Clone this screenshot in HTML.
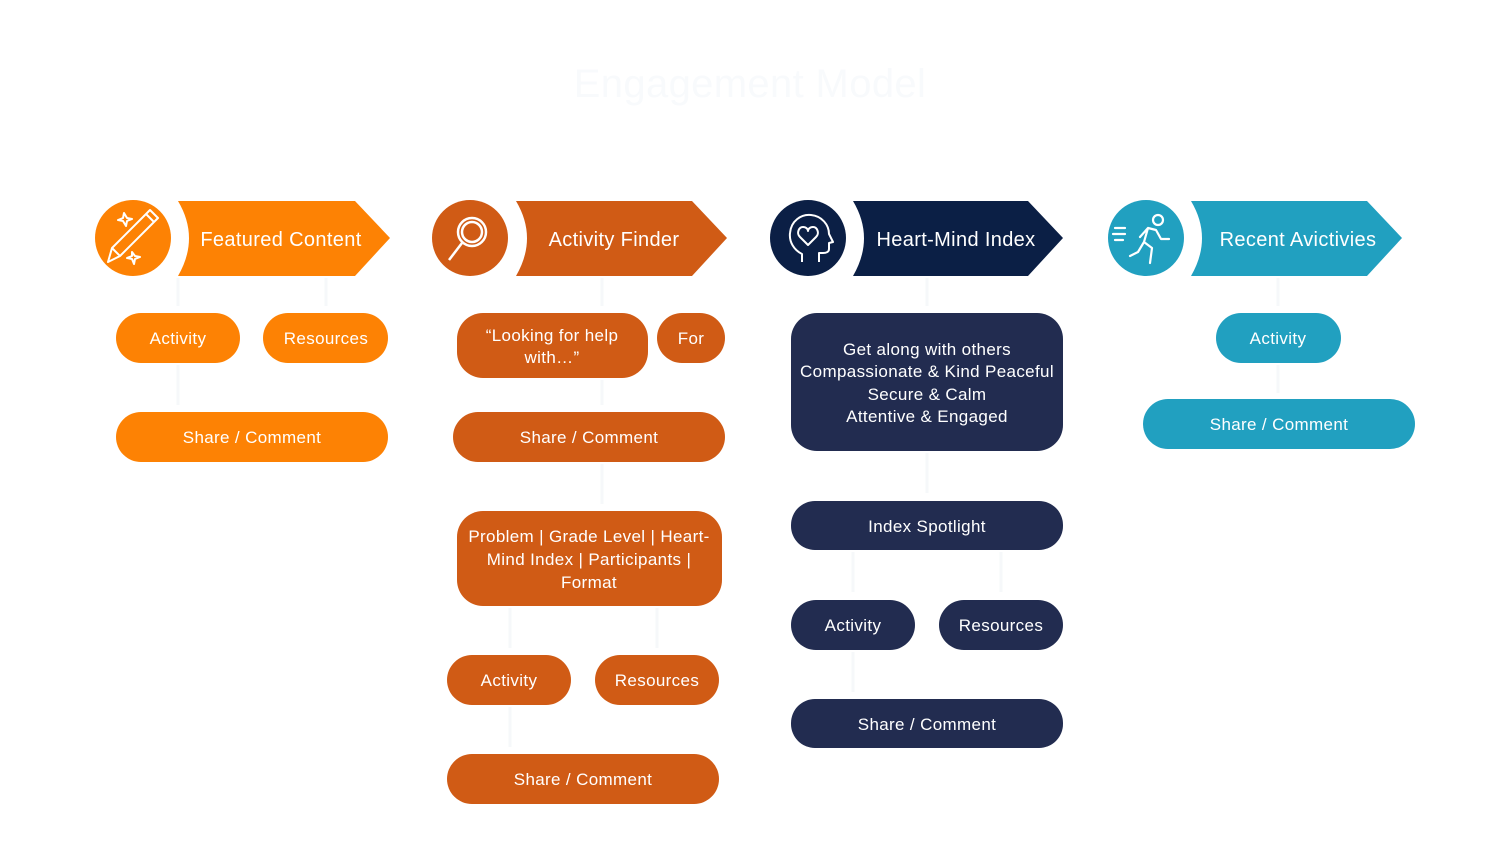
<!DOCTYPE html>
<html><head><meta charset="utf-8"><style>
html,body{margin:0;padding:0;background:#fff;}
svg{display:block;}
text{font-family:"Liberation Sans",sans-serif;fill:#fff;letter-spacing:0.35px;}
</style></head><body>
<svg width="1500" height="844" viewBox="0 0 1500 844" xmlns="http://www.w3.org/2000/svg">
<text x="750" y="97" text-anchor="middle" font-size="40" style="fill:#f8fafc">Engagement Model</text>

<!-- faint connectors -->
<g stroke="#f6f8fa" stroke-width="3" fill="none">
<path d="M178 278v28M326 278v28M178 365v40M602 278v28M602 380v25M602 464v40M510 608v40M657 608v40M510 707v40M927 278v28M927 453v40M853 552v40M1001 552v40M853 652v40M1278 278v28M1278 365v28"/>
</g>

<!-- Column 1 -->
<circle cx="133" cy="238" r="38" fill="#fd8204"/>
<g stroke="#fff" stroke-width="2" fill="none" stroke-linejoin="round">
<path d="M108 262l4-14 38-38 8 8-38 38z M112 248l8 8 M146 214l8 8"/>
<path d="M124 213l3 5 5 1-5 2-1 5-3-5-5-1 5-2z M132 252l3 4 5 1-5 2-1 5-2-5-5-1 5-2z"/>
</g>
<path d="M178 201 Q200 238 178 276 L355 276 L390 238 L355 201 Z" fill="#fd8204"/>
<text x="281" y="246" text-anchor="middle" font-size="20">Featured Content</text>
<rect x="116" y="313" width="124" height="50" rx="25" fill="#fd8204"/>
<text x="178" y="344" text-anchor="middle" font-size="17">Activity</text>
<rect x="263" y="313" width="125" height="50" rx="25" fill="#fd8204"/>
<text x="326" y="344" text-anchor="middle" font-size="17">Resources</text>
<rect x="116" y="412" width="272" height="50" rx="25" fill="#fd8204"/>
<text x="252" y="443" text-anchor="middle" font-size="17">Share / Comment</text>

<!-- Column 2 -->
<circle cx="470" cy="238" r="38" fill="#d05b15"/>
<g stroke="#fff" stroke-width="2.5" fill="none">
<circle cx="472" cy="232" r="14"/><circle cx="472" cy="232" r="10"/>
<path d="M462 243l-13 17"/>
</g>
<path d="M516 201 Q538 238 516 276 L692 276 L727 238 L692 201 Z" fill="#d05b15"/>
<text x="614" y="246" text-anchor="middle" font-size="20">Activity Finder</text>
<rect x="457" y="313" width="191" height="65" rx="26" fill="#d05b15"/>
<text x="552" y="341" text-anchor="middle" font-size="17">“Looking for help</text>
<text x="552" y="363" text-anchor="middle" font-size="17">with…”</text>
<rect x="657" y="313" width="68" height="50" rx="25" fill="#d05b15"/>
<text x="691" y="344" text-anchor="middle" font-size="17">For</text>
<rect x="453" y="412" width="272" height="50" rx="25" fill="#d05b15"/>
<text x="589" y="443" text-anchor="middle" font-size="17">Share / Comment</text>
<rect x="457" y="511" width="265" height="95" rx="26" fill="#d05b15"/>
<text x="589" y="542" text-anchor="middle" font-size="17">Problem | Grade Level | Heart-</text>
<text x="589" y="565" text-anchor="middle" font-size="17">Mind Index | Participants |</text>
<text x="589" y="588" text-anchor="middle" font-size="17">Format</text>
<rect x="447" y="655" width="124" height="50" rx="25" fill="#d05b15"/>
<text x="509" y="686" text-anchor="middle" font-size="17">Activity</text>
<rect x="595" y="655" width="124" height="50" rx="25" fill="#d05b15"/>
<text x="657" y="686" text-anchor="middle" font-size="17">Resources</text>
<rect x="447" y="754" width="272" height="50" rx="25" fill="#d05b15"/>
<text x="583" y="785" text-anchor="middle" font-size="17">Share / Comment</text>

<!-- Column 3 -->
<circle cx="808" cy="238" r="38" fill="#0b1f45"/>
<g stroke="#fff" stroke-width="2" fill="none" stroke-linejoin="round">
<path d="M802 262v-8c-8-4-13-12-12-21 1-12 11-19 21-18 11 1 18 10 18 19l4 8-4 1v6c0 3-3 4-6 4h-4v9"/>
<path d="M808 245l-8-8c-4-4-1-10 3-10 3 0 5 2 5 4 0-2 2-4 5-4 4 0 7 6 3 10z"/>
</g>
<path d="M853 201 Q875 238 853 276 L1028 276 L1063 238 L1028 201 Z" fill="#0b1f45"/>
<text x="956" y="246" text-anchor="middle" font-size="20">Heart-Mind Index</text>
<rect x="791" y="313" width="272" height="138" rx="26" fill="#222c50"/>
<text x="927" y="355" text-anchor="middle" font-size="17">Get along with others</text>
<text x="927" y="377" text-anchor="middle" font-size="17">Compassionate &amp; Kind Peaceful</text>
<text x="927" y="400" text-anchor="middle" font-size="17">Secure &amp; Calm</text>
<text x="927" y="422" text-anchor="middle" font-size="17">Attentive &amp; Engaged</text>
<rect x="791" y="501" width="272" height="49" rx="24" fill="#222c50"/>
<text x="927" y="532" text-anchor="middle" font-size="17">Index Spotlight</text>
<rect x="791" y="600" width="124" height="50" rx="25" fill="#222c50"/>
<text x="853" y="631" text-anchor="middle" font-size="17">Activity</text>
<rect x="939" y="600" width="124" height="50" rx="25" fill="#222c50"/>
<text x="1001" y="631" text-anchor="middle" font-size="17">Resources</text>
<rect x="791" y="699" width="272" height="49" rx="24" fill="#222c50"/>
<text x="927" y="730" text-anchor="middle" font-size="17">Share / Comment</text>

<!-- Column 4 -->
<circle cx="1146" cy="238" r="38" fill="#21a0c0"/>
<g stroke="#fff" stroke-width="2.2" fill="none" stroke-linecap="round" stroke-linejoin="round">
<circle cx="1158" cy="220" r="5"/>
<path d="M1140 237l8-9 8 2 5 9h8 M1148 228l-4 14 8 6-2 15 M1144 242l-6 10-8 4 M1115 228h10 M1113 234h12 M1115 240h8"/>
</g>
<path d="M1191 201 Q1213 238 1191 276 L1367 276 L1402 238 L1367 201 Z" fill="#21a0c0"/>
<text x="1298" y="246" text-anchor="middle" font-size="20">Recent Avictivies</text>
<rect x="1216" y="313" width="125" height="50" rx="25" fill="#21a0c0"/>
<text x="1278" y="344" text-anchor="middle" font-size="17">Activity</text>
<rect x="1143" y="399" width="272" height="50" rx="25" fill="#21a0c0"/>
<text x="1279" y="430" text-anchor="middle" font-size="17">Share / Comment</text>
</svg>
</body></html>
